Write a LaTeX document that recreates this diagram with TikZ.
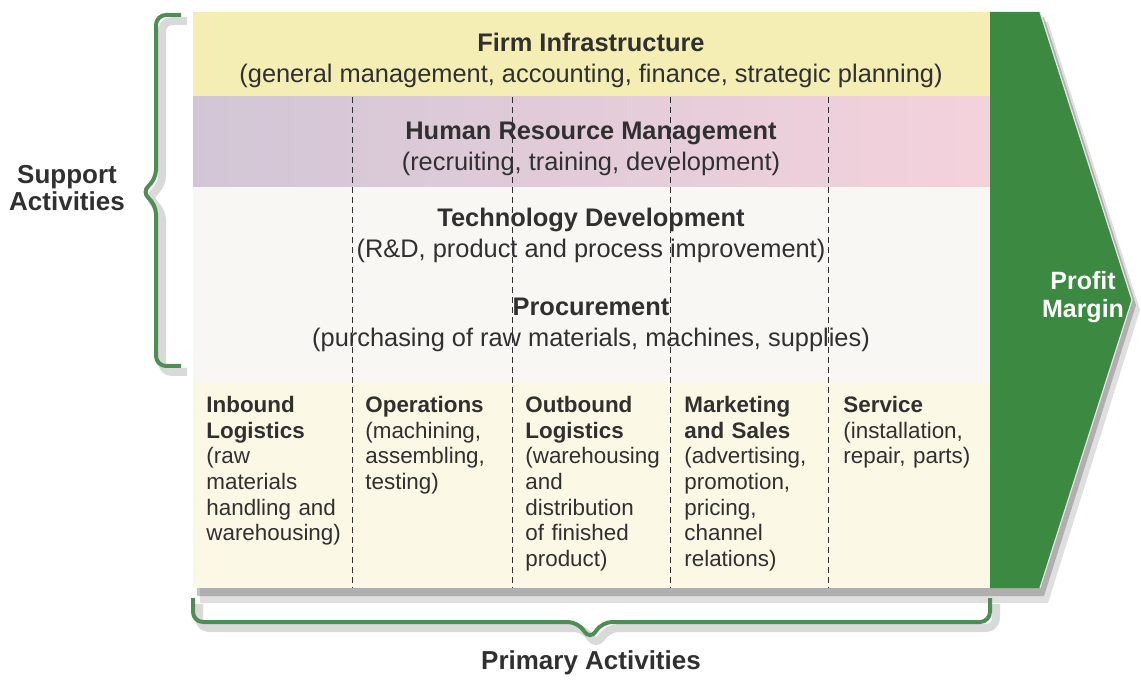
\documentclass[tikz,border=0pt]{standalone}
\usepackage{fontspec}
\setmainfont{Liberation Sans}
\usetikzlibrary{positioning}

\definecolor{infra}{RGB}{244,237,180}
\definecolor{hrmleft}{RGB}{210,198,214}
\definecolor{hrmright}{RGB}{244,210,220}
\definecolor{techbg}{RGB}{248,247,243}
\definecolor{primbg}{RGB}{251,248,230}
\definecolor{margin}{RGB}{60,138,66}
\definecolor{bracegreen}{RGB}{78,142,84}
\definecolor{ink}{RGB}{48,48,48}

\begin{document}
\begin{tikzpicture}[x=0.5pt, y=-0.5pt,
    support/.style={align=center, text=ink, inner sep=0pt, font=\fontsize{12.7}{15.5}\selectfont},
    primary/.style={anchor=north west, align=left, text width=74pt, inner sep=0pt, text=ink,
      font=\fontsize{11.2}{12.8}\selectfont},
    group/.style={align=center, text=ink, inner sep=0pt, font=\bfseries\fontsize{13}{13.6}\selectfont},
    divider/.style={ink, line width=0.5pt, dash pattern=on 3pt off 2pt},
    bracket/.style={bracegreen, line width=2pt, line join=round, rounded corners=5pt},
    bracketshadow/.style={gray, opacity=.3, line width=4pt, line join=round, rounded corners=5pt}]
  \useasboundingbox (0,0) rectangle (1141,684);

  % soft shadow under the chain
  \fill[gray, opacity=.25] (200,22) -- (1048,22) -- (1140,310) -- (1048,603) -- (200,603) -- cycle;
  \fill[gray!80!black, opacity=.4] (197,17) -- (1044,17) -- (1136,305) -- (1044,596) -- (197,596) -- cycle;

  % support activity bands
  \fill[infra] (193,12) rectangle (990,97);
  \shade[left color=hrmleft, right color=hrmright] (193,97) rectangle (990,187);
  \fill[techbg] (193,187) rectangle (990,383);
  % primary activities
  \fill[primbg] (193,383) rectangle (990,588);
  % margin arrow
  \fill[margin] (990,12) -- (1040,12) -- (1132,300) -- (1040,588) -- (990,588) -- cycle;
  \draw[white!80!gray, line width=0.6pt] (1040,12) -- (1132,300) -- (1040,588);

  \foreach \x in {352,512,670,828}
    \draw[divider] (\x,97) -- (\x,588);

  \node[support] (infra) at (591,60) {\textbf{Firm Infrastructure}\\(general management, accounting, finance, strategic planning)};
  \node[support] (hrm) at (591,149) {\textbf{Human Resource Management}\\(recruiting, training, development)};
  \node[support] (tech) at (591,235) {\textbf{Technology Development}\\(R\&D, product and process improvement)};
  \node[support] (proc) at (591,325) {\textbf{Procurement}\\(purchasing of raw materials, machines, supplies)};

  \node[primary] (inbound) at (206,396) {\textbf{Inbound}\\\textbf{Logistics}\\(raw\\materials\\handling and\\warehousing)};
  \node[primary] (operations) at (365,396) {\textbf{Operations}\\(machining,\\assembling,\\testing)};
  \node[primary] (outbound) at (525,396) {\textbf{Outbound}\\\textbf{Logistics}\\(warehousing\\and\\distribution\\of finished\\product)};
  \node[primary] (marketing) at (684,396) {\textbf{Marketing}\\\textbf{and Sales}\\(advertising,\\promotion,\\pricing,\\channel\\relations)};
  \node[primary] (service) at (843,396) {\textbf{Service}\\(installation,\\repair, parts)};

  \node[group, text=white, font=\bfseries\fontsize{12.5}{14}\selectfont] (profit) at (1083,297) {Profit\\Margin};

  % braces
  \draw[bracketshadow] (187,21) -- (162,21) -- (162,186) -- (147,198) -- (162,210) -- (162,372) -- (187,372);
  \draw[bracketshadow] (199,604) -- (199,628) -- (584,628) -- (596,646) -- (608,628) -- (996,628) -- (996,604);
  \draw[bracket] (181,15) -- (156,15) -- (156,180) -- (141,192) -- (156,204) -- (156,366) -- (181,366);
  \draw[bracket] (193,598) -- (193,622) -- (578,622) -- (590,640) -- (602,622) -- (990,622) -- (990,598);

  \node[group] (support) at (67,188) {Support\\Activities};
  \node[group] (primaryact) at (591,663) {Primary Activities};
\end{tikzpicture}
\end{document}
